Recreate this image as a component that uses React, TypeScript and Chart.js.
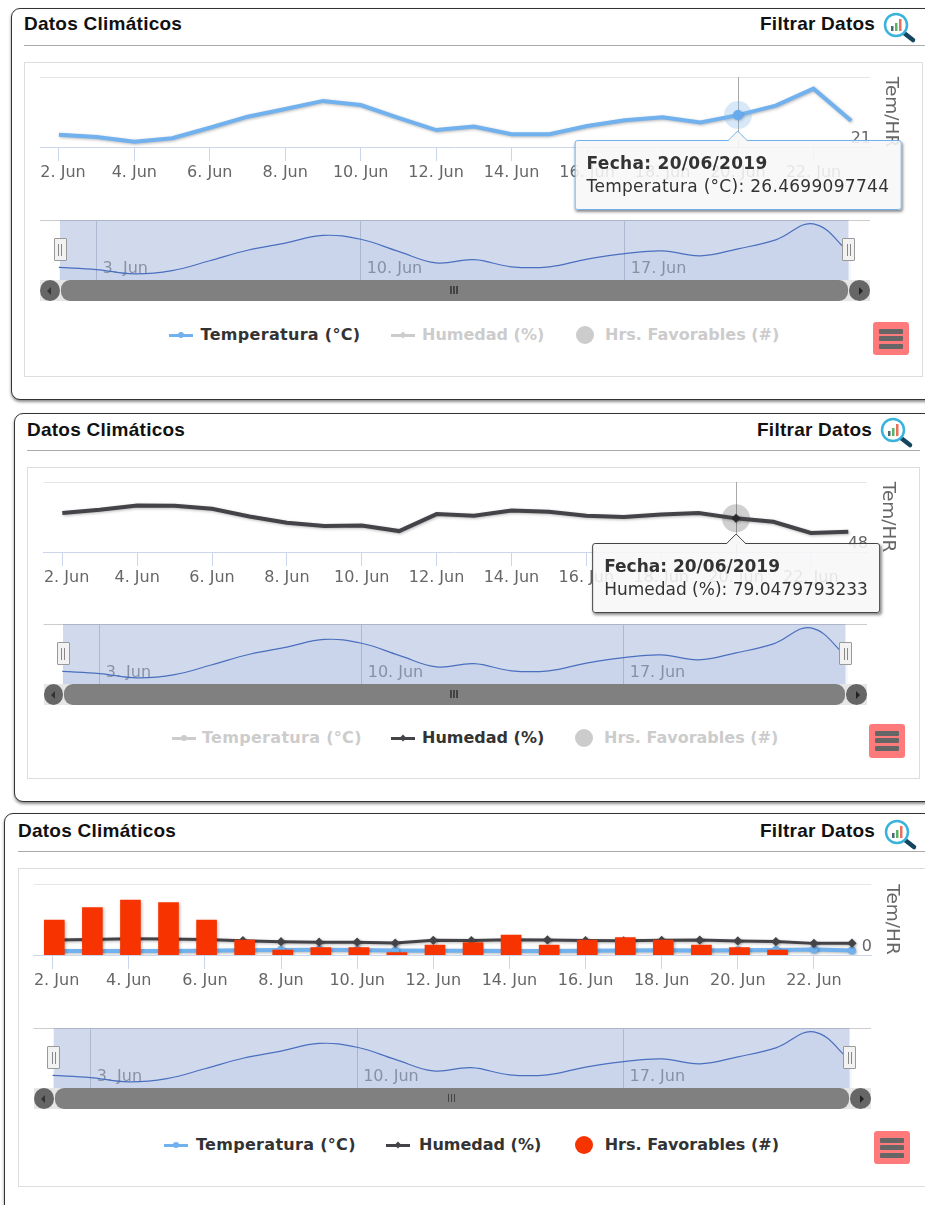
import React, { useEffect, useRef } from "react";
import { Chart, registerables } from "chart.js";

Chart.register(...registerables);

const categories = ["2. Jun","3. Jun","4. Jun","5. Jun","6. Jun","7. Jun","8. Jun","9. Jun","10. Jun","11. Jun","12. Jun","13. Jun","14. Jun","15. Jun","16. Jun","17. Jun","18. Jun","19. Jun","20. Jun","21. Jun","22. Jun","23. Jun"];
const dates = ["02/06/2019","03/06/2019","04/06/2019","05/06/2019","06/06/2019","07/06/2019","08/06/2019","09/06/2019","10/06/2019","11/06/2019","12/06/2019","13/06/2019","14/06/2019","15/06/2019","16/06/2019","17/06/2019","18/06/2019","19/06/2019","20/06/2019","21/06/2019","22/06/2019","23/06/2019"];
const temperatura = [23.1,22.7,21.9,22.5,24.3,26.2,27.5,28.9,28.2,26.0,23.9,24.5,23.2,23.2,24.6,25.6,26.1,25.2,26.4699097744,28.1,31.0,25.5];
const humedad = [83.9,86.9,90.9,90.6,87.9,80.8,75.0,71.9,72.5,67.3,83.0,81.4,86.3,85.1,81.4,80.2,82.7,83.9,79.0479793233,75.9,65.5,66.7];
const horas = [14,19,22,21,14,6,2,3,3,1,4,5,8,4,6,7,6,4,3,2];
const labelTemp = "Temperatura (°C)";
const labelHum = "Humedad (%)";
const labelHrs = "Hrs. Favorables (#)";

const BLUE = "#70b1ee";
const DARK = "#434348";
const RED = "#f73400";
const OFF = "#cccccc";
const FONT = "'DejaVu Sans', sans-serif";
const HEAD = "'Liberation Sans', Arial, sans-serif";

const panels = [
  { box:{l:11,t:8,b:400}, title:{x:24,y:24}, filter:{x:760,y:24}, icon:{x:882.5,y:12}, rule:{y:45,l:24,r:925}, inner:{l:24,t:62,r:923,b:377},
    plot:{l:40,r:870,t:77,b:147}, nav:{t:219.5,b:279.5,l:60,r:848.5}, legend:{y:335, a:[169,200.6], b:[390.5,422], c:[585,605]}, menu:{l:873,t:322,r:908.5,b:355},
    show:[true,false,false], yMin:21, yMax:33, yLabel:"21", active:0, tipColor:BLUE, tipTop:140, tipSpacing:0.3, haloColor:"rgba(124,181,236,0.3)", tempW:4, humW:4, tempR:0, humR:0, firstLabelW:46 },
  { box:{l:14,t:413,b:802}, title:{x:27,y:430}, filter:{x:757,y:430}, icon:{x:880,y:417}, rule:{y:450.5,l:27,r:920}, inner:{l:27,t:467,r:919.5,b:779},
    plot:{l:43.6,r:867,t:482,b:552}, nav:{t:623.5,b:683.5,l:63,r:845.5}, legend:{y:738, a:[171.7,202], b:[390.5,422], c:[584,604]}, menu:{l:869,t:724,r:904.5,b:757.5},
    show:[false,true,false], yMin:48, yMax:112.6, yLabel:"48", active:1, tipColor:DARK, tipTop:543, tipSpacing:0, haloColor:"rgba(67,67,72,0.25)", tempW:4, humW:4, tempR:0, humR:0, firstLabelW:46 },
  { box:{l:4,t:813,b:1230}, title:{x:18,y:830.5}, filter:{x:760,y:830.5}, icon:{x:884,y:818.5}, rule:{y:851.5,l:18,r:925}, inner:{l:18,t:868,r:930,b:1187},
    plot:{l:33.6,r:871,t:883.5,b:954.5}, nav:{t:1027.5,b:1087.5,l:53.7,r:849.6}, legend:{y:1145, a:[164,196], b:[386.4,419], c:[584,604.7]}, menu:{l:874,t:1131,r:909.5,b:1164},
    show:[true,true,true], yMin:0, yMax:400, yLabel:"0", active:-1, tipColor:BLUE, tipTop:0, tipSpacing:0, haloColor:"", tempW:4, humW:3, tempR:2, humR:2.5, firstLabelW:46 },
];

type Cfg = (typeof panels)[number];

function abs(l:number,t:number,w:number,h:number,extra:any={}){ return {position:"absolute",left:l,top:t,width:w,height:h,boxSizing:"border-box",...extra} as React.CSSProperties; }

function MainChart({cfg}:{cfg:Cfg}){
  const ref = useRef<HTMLCanvasElement>(null);
  const tip = useRef<HTMLDivElement>(null);
  const tipTitle = useRef<HTMLDivElement>(null);
  const tipBody = useRef<HTMLDivElement>(null);
  const top = cfg.plot.t - 8;
  const height = cfg.plot.b - cfg.plot.t + 48;
  useEffect(()=>{
    const hover = {
      id:"hover",
      beforeDraw(chart:any){
        const items = chart.scales.x.getLabelItems(chart.chartArea);
        if(items.length) items[0].options.translation[0] = cfg.plot.l + cfg.firstLabelW/2;
      },
      beforeDatasetsDraw(chart:any){
        if(cfg.active<0) return;
        const el = chart.getDatasetMeta(cfg.active).data[18];
        const {ctx,chartArea} = chart;
        ctx.save();
        ctx.strokeStyle="#a8a8a8"; ctx.lineWidth=1;
        ctx.beginPath(); ctx.moveTo(Math.round(el.x)+0.5,chartArea.top); ctx.lineTo(Math.round(el.x)+0.5,chartArea.bottom); ctx.stroke();
        ctx.restore();
      },
      afterDatasetsDraw(chart:any){
        if(cfg.active<0) return;
        const el = chart.getDatasetMeta(cfg.active).data[18];
        const {ctx} = chart;
        ctx.save();
        ctx.fillStyle=cfg.haloColor;
        ctx.beginPath(); ctx.arc(el.x,el.y,14,0,Math.PI*2); ctx.fill();
        ctx.restore();
      },
      beforeDatasetDraw(chart:any,args:any){
        const {ctx} = chart;
        ctx.save();
        ctx.shadowColor="rgba(0,0,0,0.28)"; ctx.shadowBlur=3; ctx.shadowOffsetX=1; ctx.shadowOffsetY=1;
        if(args.index===2) ctx.translate(1.7,0);
      },
      afterDatasetDraw(chart:any){ chart.ctx.restore(); },
    };
    const chart = new Chart(ref.current as HTMLCanvasElement, {
      type:"line",
      data:{ labels:categories, datasets:[
        { label:labelTemp, data:temperatura, borderColor:BLUE, backgroundColor:BLUE, borderWidth:cfg.tempW, pointRadius:cfg.tempR, pointStyle:"circle", tension:0, hidden:!cfg.show[0], order:2, yAxisID:"y", pointHoverRadius:5, pointHoverBackgroundColor:"#5ea6ee", pointHoverBorderWidth:0 },
        { label:labelHum, data:humedad, borderColor:DARK, backgroundColor:DARK, borderWidth:cfg.humW, pointRadius:cfg.humR, pointStyle:"rectRot", tension:0, hidden:!cfg.show[1], order:1, yAxisID:"y", pointHoverRadius:4.5, pointHoverBackgroundColor:"#222", pointHoverBorderWidth:0 },
        { type:"bar", label:labelHrs, data:horas, backgroundColor:RED, barThickness:20, hidden:!cfg.show[2], order:0, yAxisID:"yh" },
      ] as any },
      options:{
        animation:false, responsive:false,
        events:[],
        layout:{ autoPadding:false, padding:{left:cfg.plot.l,right:925-cfg.plot.r-32,top:8,bottom:0} },
        plugins:{
          legend:{display:false},
          tooltip:{ enabled:false,
            callbacks:{
              title:(items:any[])=>"Fecha: "+dates[items[0].dataIndex],
              label:(item:any)=>item.dataset.label+": "+item.raw,
            },
            external:({tooltip}:any)=>{
              const d = tip.current; if(!d || !tooltip.dataPoints) return;
              tipTitle.current!.textContent = tooltip.title[0];
              tipBody.current!.textContent = tooltip.body[0].lines[0];
              d.style.left = tooltip.caretX+"px";
              d.style.display = "block";
            } },
        },
        scales:{
          x:{ type:"category", offset:true,
            afterFit:(s:any)=>{s.height=40;},
            border:{color:"#ccd6eb"},
            grid:{ offset:false, drawOnChartArea:false, tickLength:14, tickColor:"#ccd6eb" },
            ticks:{ autoSkip:false, maxRotation:0, minRotation:0, padding:2, color:"#666", font:{family:FONT,size:16},
              callback:(_v:any,i:number)=> i%2===0 ? categories[i] : null } },
          y:{ position:"right", min:cfg.yMin, max:cfg.yMax,
            afterFit:(s:any)=>{s.width=32; s.paddingTop=0; s.paddingBottom=0;},
            afterBuildTicks:(s:any)=>{s.ticks=[{value:cfg.yMin},{value:cfg.yMax}];},
            border:{display:false},
            grid:{ color:(c:any)=> c.index===0 ? "rgba(0,0,0,0)" : "#e6e6e6", tickLength:0 },
            title:{ display:true, text:"Tem/HR", color:"#666", font:{family:FONT,size:18.5}, padding:0 },
            ticks:{ mirror:true, padding:1, labelOffset:-8, color:"#666", font:{family:FONT,size:16},
              callback:(v:any)=> v===cfg.yMin ? cfg.yLabel : "" } },
          yh:{ display:false, min:0, max:28.4 },
        },
      } as any,
      plugins:[hover],
    });
    if(cfg.active>=0){
      const act=[{datasetIndex:cfg.active,index:18}];
      chart.setActiveElements(act);
      (chart.tooltip as any).setActiveElements(act,{x:0,y:0});
      chart.render();
    }
    return ()=>chart.destroy();
  },[]);
  return <>
    <canvas ref={ref} width={925} height={height} style={{position:"absolute",left:0,top,width:925,height}}/>
    {cfg.active>=0 && <div ref={tip} style={{position:"absolute",top:cfg.tipTop,left:0,transform:"translateX(-50%)",display:"none",background:"rgba(247,247,247,0.88)",border:`1.5px solid ${cfg.tipColor}`,borderRadius:3,boxShadow:"1px 2px 3px rgba(0,0,0,0.45)",padding:"11px 11px 11px",whiteSpace:"nowrap",fontFamily:FONT,fontSize:17,letterSpacing:cfg.tipSpacing,color:"#333",lineHeight:"23px",zIndex:5}}>
      <svg width={20} height={10} style={{position:"absolute",left:"50%",marginLeft:-10,top:-10}}><path d="M0 10 L10 0 L20 10" fill="#f7f7f7" stroke={cfg.tipColor}/></svg>
      <div ref={tipTitle} style={{fontWeight:600}}/>
      <div ref={tipBody}/>
    </div>}
  </>;
}

function Navigator({cfg}:{cfg:Cfg}){
  const ref = useRef<HTMLCanvasElement>(null);
  const top = cfg.nav.t;
  const height = cfg.nav.b - cfg.nav.t;
  useEffect(()=>{
    const mask = {
      id:"mask",
      afterDatasetsDraw(chart:any){
        const {ctx,chartArea} = chart;
        const x0 = cfg.nav.l, x1 = cfg.nav.r;
        ctx.save();
        ctx.fillStyle="rgba(102,133,194,0.3)";
        ctx.fillRect(x0,chartArea.top,x1-x0,chartArea.bottom-chartArea.top);
        ctx.restore();
      },
    };
    const chart = new Chart(ref.current as HTMLCanvasElement, {
      type:"line",
      data:{ labels:categories, datasets:[
        { label:labelTemp, data:temperatura, borderColor:"#3f66bd", borderWidth:1.2, pointRadius:0, tension:0.4, fill:"origin", backgroundColor:"rgba(51,92,173,0.05)" },
      ]},
      options:{
        animation:false, responsive:false, events:[],
        layout:{ autoPadding:false, padding:{left:cfg.plot.l,right:925-cfg.plot.r,top:0,bottom:0} },
        plugins:{ legend:{display:false}, tooltip:{enabled:false} },
        scales:{
          x:{ type:"category", offset:true,
            afterFit:(s:any)=>{s.height=0;},
            border:{display:false},
            grid:{ offset:false, color:"rgba(110,120,140,0.35)", tickLength:0 },
            ticks:{ autoSkip:false, maxRotation:0, minRotation:0, mirror:true, align:"start", padding:2, labelOffset:6, color:"#999", font:{family:FONT,size:16},
              callback:(_v:any,i:number)=> (i===1||i===8||i===15) ? categories[i] : null } },
          y:{ display:true, min:20.8, max:31.7,
            afterFit:(s:any)=>{s.width=0;},
            afterBuildTicks:(s:any)=>{s.ticks=[{value:31.7}];},
            border:{display:false},
            grid:{ color:"#cccccc", tickLength:0 },
            ticks:{ display:false } },
        },
      } as any,
      plugins:[mask],
    });
    return ()=>chart.destroy();
  },[]);
  const {l,r,t,b} = cfg.nav;
  const sTop = b + 0.5, sH = 21;
  const handle = (x:number,key:string)=>(
    <div key={key} style={abs(x-6.5,t+18,13,23.5,{background:"#f2f2f2",border:"1px solid #999",borderRadius:1,zIndex:2})}>
      <div style={abs(3.5,5,1,12,{background:"#888"})}/>
      <div style={abs(6.5,5,1,12,{background:"#888"})}/>
    </div>);
  return <>
    <canvas ref={ref} width={925} height={height} style={{position:"absolute",left:0,top,width:925,height}}/>
    {handle(l,"hl")}{handle(r,"hr")}
    <div style={abs(cfg.plot.l,sTop,cfg.plot.r-cfg.plot.l,sH,{background:"#e6e6e6"})}/>
    <div style={abs(cfg.plot.l,sTop,l-cfg.plot.l,sH,{background:"#666",borderRadius:"50%"})}>
      <div style={{position:"absolute",left:7,top:6.5,width:0,height:0,borderTop:"4px solid transparent",borderBottom:"4px solid transparent",borderRight:"4px solid #333"}}/>
    </div>
    <div style={abs(r,sTop,cfg.plot.r-r,sH,{background:"#666",borderRadius:"50%"})}>
      <div style={{position:"absolute",right:7,top:6.5,width:0,height:0,borderTop:"4px solid transparent",borderBottom:"4px solid transparent",borderLeft:"4px solid #222"}}/>
    </div>
    <div style={abs(l+1,sTop,r-l-2,sH,{background:"#808080",borderRadius:9})}>
      {[-4,-1,2].map(o=><div key={o} style={abs((r-l-2)/2+o,6,1.5,8,{background:"#444"})}/>)}
    </div>
  </>;
}

function Swatch({x,y,color,diamond}:{x:number,y:number,color:string,diamond?:boolean}){
  return <>
    <div style={abs(x,y-1.5,24,3,{background:color})}/>
    <div style={abs(x+9,y-3,6,6,{background:color,borderRadius:diamond?0:"50%",transform:diamond?"rotate(45deg) scale(.8)":undefined})}/>
  </>;
}

function Legend({cfg}:{cfg:Cfg}){
  const {y,a,b,c} = cfg.legend;
  const text = (x:number,s:string,on:boolean,sp=0)=>(
    <div style={{position:"absolute",left:x,top:y-12,lineHeight:"24px",fontFamily:FONT,fontSize:16,fontWeight:700,letterSpacing:sp,color:on?"#333":OFF,whiteSpace:"nowrap"}}>{s}</div>);
  return <>
    <Swatch x={a[0]} y={y} color={cfg.show[0]?BLUE:OFF}/>
    {text(a[1],labelTemp,cfg.show[0],0.3)}
    <Swatch x={b[0]} y={y} color={cfg.show[1]?DARK:OFF} diamond/>
    {text(b[1],labelHum,cfg.show[1])}
    <div style={abs(c[0]-9,y-9,18,18,{background:cfg.show[2]?"#f73400":OFF,borderRadius:"50%"})}/>
    {text(c[1],labelHrs,cfg.show[2])}
  </>;
}

function Icon({x,y}:{x:number,y:number}){
  return <svg width={34} height={32} style={{position:"absolute",left:x,top:y}}>
    <line x1={21} y1={21} x2={30} y2={28} stroke="#16465f" strokeWidth={4.5} strokeLinecap="round"/>
    <circle cx={13} cy={13} r={11} fill="#fff" stroke="#3ab3dc" strokeWidth={2.5}/>
    <rect x={8} y={14} width={2.5} height={5} fill="#4a6a6a"/>
    <rect x={12} y={11} width={2.5} height={8} fill="#58b368"/>
    <rect x={16} y={7} width={2.5} height={12} fill="#e8705d"/>
  </svg>;
}

function Panel({cfg}:{cfg:Cfg}){
  const {box,inner,rule,menu} = cfg;
  const head = (x:number,y:number,s:string)=>(
    <div style={{position:"absolute",left:x,top:y-12,lineHeight:"24px",fontFamily:HEAD,fontSize:19,fontWeight:700,letterSpacing:0.25,color:"#111",whiteSpace:"nowrap"}}>{s}</div>);
  return <>
    <div style={abs(box.l,box.t,960,box.b-box.t,{background:"#fff",border:"1px solid #333",borderRadius:9,boxShadow:"0 2px 3px rgba(0,0,0,0.45)"})}/>
    {head(cfg.title.x,cfg.title.y,"Datos Climáticos")}
    {head(cfg.filter.x,cfg.filter.y,"Filtrar Datos")}
    <Icon x={cfg.icon.x} y={cfg.icon.y}/>
    <div style={abs(rule.l,rule.y-0.5,rule.r-rule.l,1,{background:"#aaa"})}/>
    <div style={abs(inner.l,inner.t,inner.r-inner.l,inner.b-inner.t,{border:"1px solid #ddd"})}/>
    <Navigator cfg={cfg}/>
    <MainChart cfg={cfg}/>
    <Legend cfg={cfg}/>
    <div style={abs(menu.l,menu.t,menu.r-menu.l,menu.b-menu.t,{background:"#ff7b7b",borderRadius:3})}>
      {[7,14,22].map(o=><div key={o} style={abs(6,o,menu.r-menu.l-12,4.5,{background:"#666",borderRadius:1})}/>)}
    </div>
  </>;
}

export default function App(){
  return <div style={{position:"absolute",left:0,top:0,width:925,height:1205,overflow:"hidden",background:"#fff"}}>
    {panels.map((p,i)=><Panel key={i} cfg={p}/>)}
  </div>;
}
